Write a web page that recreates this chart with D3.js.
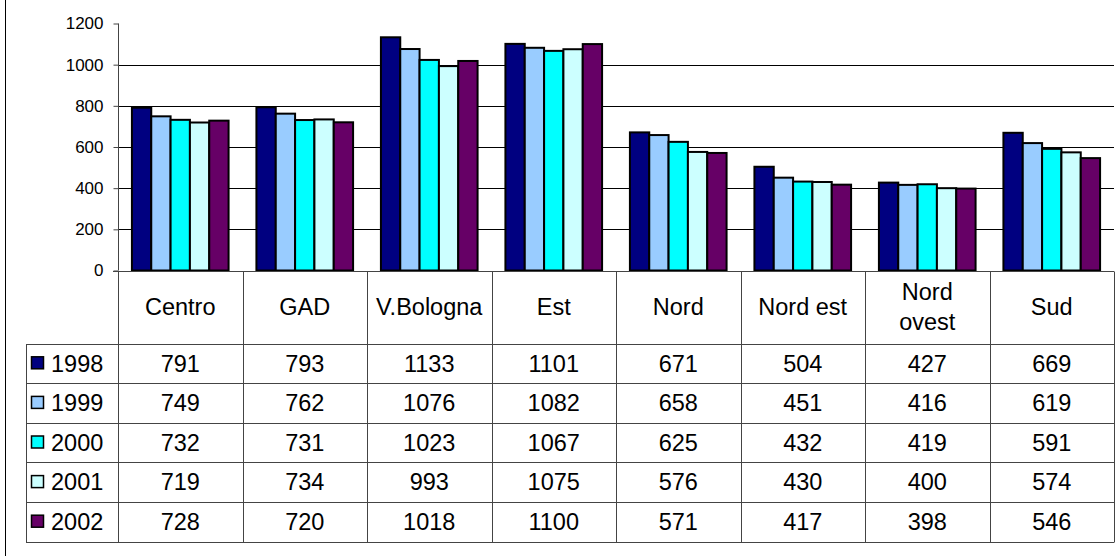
<!DOCTYPE html>
<html>
<head>
<meta charset="utf-8">
<script src="https://cdn.jsdelivr.net/npm/d3@7"></script>
<style>
  html, body { margin: 0; padding: 0; background: #fff; }
  svg { display: block; font-family: "Liberation Sans", Arial, sans-serif; }
</style>
</head>
<body>
<svg id="chart" width="1119" height="556"></svg>
<script>
const categories = ["Centro", "GAD", "V.Bologna", "Est", "Nord", "Nord est", "Nord ovest", "Sud"];
const categoryLines = [["Centro"], ["GAD"], ["V.Bologna"], ["Est"], ["Nord"], ["Nord est"], ["Nord", "ovest"], ["Sud"]];
const years = ["1998", "1999", "2000", "2001", "2002"];
const values1998 = [791, 793, 1133, 1101, 671, 504, 427, 669];
const values1999 = [749, 762, 1076, 1082, 658, 451, 416, 619];
const values2000 = [732, 731, 1023, 1067, 625, 432, 419, 591];
const values2001 = [719, 734, 993, 1075, 576, 430, 400, 574];
const values2002 = [728, 720, 1018, 1100, 571, 417, 398, 546];
const seriesColors = ["#000080", "#99CCFF", "#00FFFF", "#CCFFFF", "#660066"];
const yTicks = [0, 200, 400, 600, 800, 1000, 1200];
const gridValues = [200, 400, 600, 800, 1000];

const series = [values1998, values1999, values2000, values2001, values2002];

const svg = d3.select("#chart");

const plotLeft = 118, plotRight = 1114;
const yZero = 270.5, yTop = 23.5;
const tableLeft = 26;
const headerBottom = 343.5;
const rowH = 39.6;

const x0 = d3.scaleBand().domain(categories).range([plotLeft, plotRight]).paddingInner(0).paddingOuter(0);
const x1 = d3.scaleBand().domain(years).range([0, x0.bandwidth()]).paddingInner(0).paddingOuter(0.72);
const y = d3.scaleLinear().domain([0, 1200]).range([yZero, yTop]);
const rowScale = d3.scaleBand().domain(years).range([headerBottom, headerBottom + rowH * years.length]);

// outer frame (left edge visible)
svg.append("line").attr("x1", 5.5).attr("x2", 5.5).attr("y1", 0).attr("y2", 556)
  .attr("stroke", "#000").attr("stroke-width", 1);

// gridlines
svg.append("g").selectAll("line").data(gridValues).join("line")
  .attr("x1", plotLeft).attr("x2", plotRight)
  .attr("y1", d => Math.round(y(d)) + 0.5).attr("y2", d => Math.round(y(d)) + 0.5)
  .attr("stroke", "#000").attr("stroke-width", 1);

// bars
const groups = svg.append("g").selectAll("g").data(categories).join("g")
  .attr("transform", d => `translate(${x0(d)},0)`);
groups.selectAll("rect").data((c, ci) => years.map((yr, si) => ({ yr, si, v: series[si][ci] })))
  .join("rect")
  .attr("x", d => x1(d.yr))
  .attr("width", x1.bandwidth())
  .attr("y", d => y(d.v))
  .attr("height", d => yZero - y(d.v))
  .attr("fill", d => seriesColors[d.si])
  .attr("stroke", "#000").attr("stroke-width", 2);

// y axis
const yAxis = d3.axisLeft(y).tickValues(yTicks).tickSize(5).tickPadding(10).tickFormat(d3.format("d"));
const ya = svg.append("g").attr("transform", `translate(${plotLeft + 0.5},0)`).call(yAxis);
ya.select(".domain").attr("stroke", "#444").attr("d", `M0,${yTop}V${yZero}`);
ya.selectAll(".tick line").attr("stroke", "#444");
ya.selectAll(".tick text").attr("font-size", 17).attr("fill", "#000")
  .attr("font-family", "Liberation Sans, Arial, sans-serif");

// data table
const tbl = svg.append("g");
const lineColor = "#444";
// x-axis / header top line
tbl.append("line").attr("x1", plotLeft - 5).attr("x2", plotRight)
  .attr("y1", Math.round(yZero) + 0.5).attr("y2", Math.round(yZero) + 0.5)
  .attr("stroke", lineColor);
// row lines
const rowLines = [headerBottom].concat(years.map(yr => rowScale(yr) + rowScale.bandwidth()));
tbl.selectAll("line.row").data(rowLines).join("line").attr("class", "row")
  .attr("x1", tableLeft).attr("x2", plotRight)
  .attr("y1", d => Math.round(d) + 0.5).attr("y2", d => Math.round(d) + 0.5)
  .attr("stroke", lineColor);
const tableBottom = Math.round(rowLines[rowLines.length - 1]) + 0.5;
// vertical lines
const colEdges = categories.map(c => x0(c)).concat([plotRight]);
tbl.selectAll("line.col").data(colEdges).join("line").attr("class", "col")
  .attr("x1", d => Math.round(d) + 0.5).attr("x2", d => Math.round(d) + 0.5)
  .attr("y1", Math.round(yZero) + 0.5).attr("y2", tableBottom)
  .attr("stroke", lineColor);
tbl.append("line").attr("x1", tableLeft + 0.5).attr("x2", tableLeft + 0.5)
  .attr("y1", Math.round(headerBottom) + 0.5).attr("y2", tableBottom).attr("stroke", lineColor);

// header labels
const headerMid = (yZero + headerBottom) / 2;
const fs = 23.5;
categoryLines.forEach((lines, i) => {
  const cx = x0(categories[i]) + x0.bandwidth() / 2;
  const t = tbl.append("text").attr("x", cx).attr("text-anchor", "middle")
    .attr("font-size", fs).attr("fill", "#000");
  const lh = 30;
  lines.forEach((ln, li) => {
    t.append("tspan").attr("x", cx)
      .attr("y", headerMid + (li - (lines.length - 1) / 2) * lh)
      .attr("dy", "0.35em").text(ln);
  });
});

// rows
years.forEach((yr, si) => {
  const cy = rowScale(yr) + rowScale.bandwidth() / 2;
  tbl.append("rect").attr("x", 31.5).attr("y", cy - 6.5).attr("width", 12).attr("height", 12)
    .attr("fill", seriesColors[si]).attr("stroke", "#000").attr("stroke-width", 1.5);
  tbl.append("text").attr("x", 51).attr("y", cy).attr("dy", "0.35em")
    .attr("font-size", fs).attr("fill", "#000").text(yr);
  categories.forEach((c, ci) => {
    tbl.append("text").attr("x", x0(c) + x0.bandwidth() / 2).attr("y", cy).attr("dy", "0.35em")
      .attr("text-anchor", "middle").attr("font-size", fs).attr("fill", "#000")
      .text(series[si][ci]);
  });
});
</script>
</body>
</html>
